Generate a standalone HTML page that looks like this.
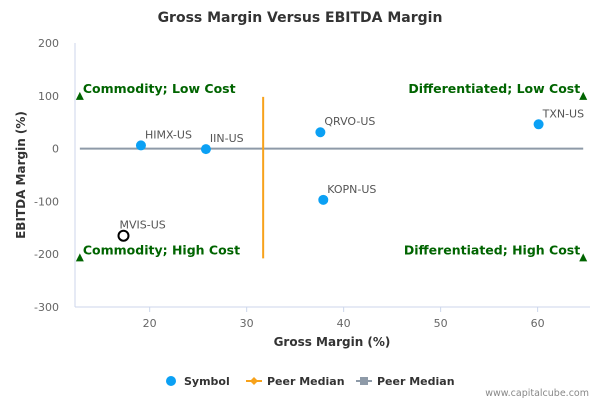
<!DOCTYPE html>
<html><head><meta charset="utf-8"><style>
body{margin:0;background:#fff;font-family:"DejaVu Sans","Liberation Sans",sans-serif;}
</style></head><body>
<svg id="c" width="600" height="400" xmlns="http://www.w3.org/2000/svg" font-family="DejaVu Sans, Liberation Sans, sans-serif">
<text x="300" y="22" text-anchor="middle" font-size="14" font-weight="bold" fill="#333">Gross Margin Versus EBITDA Margin</text>
<g id="plot"></g>
</svg>
<script>
const symbols=["HIMX-US","IIN-US","QRVO-US","TXN-US","KOPN-US"];
const gross=[19.1,25.8,37.6,60.1,37.9];
const ebitda=[6,-1,31,46,-97];
const highlightName=["MVIS-US"];
const highlightGross=[17.3];
const highlightEbitda=[-165];
const peerGross=[31.7];
const peerEbitda=[0];
const xTicks=[20,30,40,50,60];
const yTicks=[200,100,0,-100,-200,-300];
const quadLabels=["Commodity; Low Cost","Differentiated; Low Cost","Commodity; High Cost","Differentiated; High Cost"];
const xMin=12.3,xMax=65.4,yMin=-300,yMax=200;
const L=75,R=590,T=43,B=307;
const sx=v=>L+(v-xMin)/(xMax-xMin)*(R-L);
const sy=v=>B-(v-yMin)/(yMax-yMin)*(B-T);
const NS="http://www.w3.org/2000/svg";
const g=document.getElementById('plot');
function mk(t,a,txt){const e=document.createElementNS(NS,t);for(const k in a)e.setAttribute(k,a[k]);if(txt!==undefined)e.textContent=txt;g.appendChild(e);return e;}
let e;
e=mk('line',{x1:L,y1:T,x2:L,y2:B,stroke:'#ccd6eb'});


e=mk('line',{x1:L,y1:B,x2:R,y2:B,stroke:'#ccd6eb'});


yTicks.forEach(v=>{e=mk('text',{x:L-16,y:sy(v)+4,'text-anchor':'end','font-size':11,fill:'#666'},v);

});
xTicks.forEach(v=>{e=mk('line',{x1:sx(v),y1:B,x2:sx(v),y2:B+5,stroke:'#ccd6eb'});


e=mk('text',{x:sx(v),y:B+20,'text-anchor':'middle','font-size':11,fill:'#666'},v);

});
e=mk('text',{x:332,y:346,'text-anchor':'middle','font-size':12,'font-weight':'bold',fill:'#333'},'Gross Margin (%)');


e=mk('text',{x:0,y:0,transform:'translate(25,175) rotate(-90)','text-anchor':'middle','font-size':12,'font-weight':'bold',fill:'#333'},'EBITDA Margin (%)');


// peer median lines
e=mk('line',{x1:sx(12.8),y1:sy(peerEbitda[0]),x2:sx(64.7),y2:sy(peerEbitda[0]),stroke:'#8e9aa8','stroke-width':2});


e=mk('line',{x1:sx(peerGross[0]),y1:sy(98),x2:sx(peerGross[0]),y2:sy(-208),stroke:'#f7a21b','stroke-width':2});


// quadrant triangles and labels
const qx=[12.8,64.7,12.8,64.7],qy=[98,98,-208,-208];
quadLabels.forEach((t,i)=>{const x=sx(qx[i]),y=sy(qy[i]);
e=mk('path',{d:`M${x} ${y-5}L${x+4} ${y+3}L${x-4} ${y+3}Z`,fill:'#006400'});


const left=i%2==0;
e=mk('text',{x:left?x+3:x-3,y:y-4,'text-anchor':left?'start':'end','font-size':12.5,'font-weight':'bold',fill:'#006400'},t);

});
symbols.forEach((s,i)=>{const x=sx(gross[i]),y=sy(ebitda[i]);
e=mk('circle',{cx:x,cy:y,r:5,fill:'#0ba0f4'});


e=mk('text',{x:x+4,y:y-7,'font-size':11,fill:'#555'},s);

});
highlightName.forEach((s,i)=>{const x=sx(highlightGross[i]),y=sy(highlightEbitda[i]);
e=mk('circle',{cx:x,cy:y,r:5,fill:'#fff',stroke:'#000','stroke-width':2});


e=mk('text',{x:x-4,y:y-7,'font-size':11,fill:'#555'},s);

});
// legend
e=mk('circle',{cx:171,cy:381,r:5,fill:'#0ba0f4'});


e=mk('text',{x:184,y:385,'font-size':11,'font-weight':'bold',fill:'#333'},'Symbol');


e=mk('line',{x1:246,y1:381,x2:262,y2:381,stroke:'#f7a21b','stroke-width':2});


e=mk('path',{d:'M254 377L258 381L254 385L250 381Z',fill:'#f7a21b'});


e=mk('text',{x:267,y:385,'font-size':11,'font-weight':'bold',fill:'#333'},'Peer Median');


e=mk('line',{x1:356,y1:381,x2:372,y2:381,stroke:'#8e9aa8','stroke-width':2});


e=mk('rect',{x:360,y:377,width:8,height:8,fill:'#8e9aa8'});


e=mk('text',{x:377,y:385,'font-size':11,'font-weight':'bold',fill:'#333'},'Peer Median');


e=mk('text',{x:589,y:396,'text-anchor':'end','font-size':9.5,fill:'#888'},'www.capitalcube.com');


</script>
</body></html>
